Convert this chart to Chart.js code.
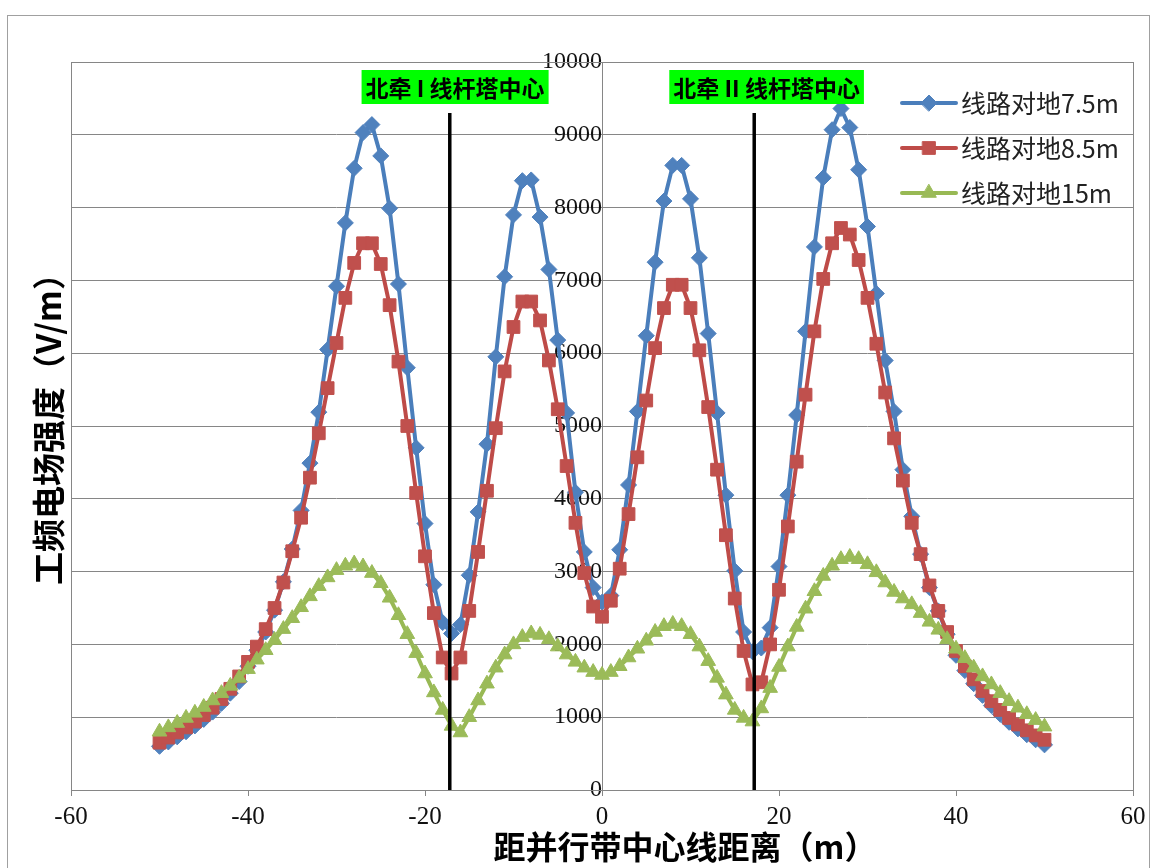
<!DOCTYPE html>
<html>
<head>
<meta charset="utf-8">
<script src="https://cdn.jsdelivr.net/npm/chart.js@4.4.1/dist/chart.umd.min.js"></script>
<style>
  html, body { margin: 0; padding: 0; background: #fff; }
  #wrap { width: 1155px; height: 868px; }
</style>
</head>
<body>
<div id="wrap"><canvas id="efield" width="1155" height="868"></canvas></div>
<script>
// distance from centre line of the parallel corridor (m)
const distance = [
  -50, -49, -48, -47, -46, -45, -44, -43, -42, -41,
  -40, -39, -38, -37, -36, -35, -34, -33, -32, -31,
  -30, -29, -28, -27, -26, -25, -24, -23, -22, -21,
  -20, -19, -18, -17, -16, -15, -14, -13, -12, -11,
  -10, -9, -8, -7, -6, -5, -4, -3, -2, -1,
  0, 1, 2, 3, 4, 5, 6, 7, 8, 9,
  10, 11, 12, 13, 14, 15, 16, 17, 18, 19,
  20, 21, 22, 23, 24, 25, 26, 27, 28, 29,
  30, 31, 32, 33, 34, 35, 36, 37, 38, 39,
  40, 41, 42, 43, 44, 45, 46, 47, 48, 49, 50
];

// field strength (V/m), line height above ground 7.5 m
const field75 = [
  600, 660, 730, 800, 880, 970, 1070, 1190, 1330, 1490,
  1700, 1920, 2170, 2470, 2860, 3310, 3840, 4490, 5190, 6050,
  6920, 7790, 8540, 9030, 9140, 8710, 7990, 6950, 5800, 4700,
  3660, 2820, 2300, 2150, 2270, 2950, 3820, 4750, 5950, 7050,
  7900, 8370, 8380, 7870, 7150, 6180, 5180, 4090, 3270, 2780,
  2580, 2670, 3300, 4190, 5200, 6240, 7250, 8090, 8580, 8580,
  8120, 7310, 6270, 5180, 4050, 3010, 2170, 1900, 1950, 2230,
  3070, 4050, 5150, 6300, 7460, 8410, 9070, 9360, 9100, 8520,
  7740, 6820, 5900, 5200, 4400, 3760, 3240, 2780, 2460, 2140,
  1850, 1640, 1460, 1300, 1160, 1040, 930, 840, 760, 690, 620
];

// 8.5 m
const field85 = [
  650, 720, 790, 860, 940, 1030, 1130, 1250, 1390, 1560,
  1760, 1970, 2210, 2500, 2850, 3280, 3740, 4290, 4900, 5520,
  6140, 6760, 7240, 7510, 7510, 7225, 6660, 5885, 5000, 4080,
  3210, 2430, 1820, 1600, 1820, 2460, 3270, 4110, 4970, 5750,
  6360, 6710, 6710, 6450, 5900, 5230, 4450, 3670, 2980, 2520,
  2380, 2600, 3040, 3790, 4570, 5350, 6070, 6620, 6940, 6940,
  6620, 6040, 5260, 4400, 3500, 2630, 1910, 1450, 1480, 2000,
  2750, 3620, 4510, 5430, 6300, 7020, 7510, 7720, 7630, 7280,
  6760, 6130, 5460, 4830, 4250, 3670, 3240, 2810, 2460, 2170,
  1910, 1700, 1520, 1360, 1220, 1100, 990, 900, 820, 750, 690
];

// 15 m
const field15 = [
  800, 860, 920, 990, 1060, 1140, 1230, 1330, 1430, 1540,
  1660, 1790, 1920, 2060, 2210, 2360, 2510, 2660, 2800, 2920,
  3020, 3080, 3110, 3070, 2980, 2840, 2640, 2400, 2140, 1880,
  1600, 1340, 1100, 880, 790, 1000, 1230, 1460, 1680, 1860,
  2000, 2100, 2150, 2130, 2070, 1970, 1860, 1760, 1680, 1620,
  1580, 1620, 1700, 1820, 1940, 2050, 2170, 2250, 2280, 2250,
  2140, 1970, 1770, 1540, 1310, 1100, 990, 940, 1120, 1400,
  1690, 1970, 2240, 2490, 2730, 2940, 3080, 3170, 3200, 3170,
  3100, 2990, 2850, 2720, 2630, 2550, 2430, 2310, 2200, 2070,
  1940, 1810, 1680, 1560, 1450, 1330, 1220, 1130, 1040, 960, 870
];

const seriesNames = ["线路对地7.5m", "线路对地8.5m", "线路对地15m"];

// tower centre lines
const towerX = [-17.2, 17.2];
const towerTop = 9300;
const towerNames = ["北牵 I 线杆塔中心", "北牵 II 线杆塔中心"];
const towerLabelX = [-16.6, 18.6];

const xTicks = { min: -60, max: 60, step: 20 };
const yTicks = { min: 0, max: 10000, step: 1000 };

const xTitle = "距并行带中心线距离（m）";
const yTitle = "工频电场强度（V/m）";

const styles = [
  { line: "#4A7EBB", fill: "#4F81BD", point: "rectRot", radius: 8 },
  { line: "#BE4B48", fill: "#C0504D", point: "rect", radius: 9 },
  { line: "#98B954", fill: "#9BBB59", point: "triangle", radius: 8.5 }
];

const gridGrey = "#868686";

function toPoints(values) {
  return distance.map((d, i) => ({ x: d, y: values[i] }));
}

const seriesData = [field75, field85, field15];

const datasets = seriesData.map((vals, i) => ({
  label: seriesNames[i],
  data: toPoints(vals),
  borderColor: styles[i].line,
  backgroundColor: styles[i].fill,
  pointBackgroundColor: styles[i].fill,
  pointBorderColor: styles[i].fill,
  pointStyle: styles[i].point,
  pointRadius: styles[i].radius,
  pointBorderWidth: 1,
  borderWidth: 4,
  tension: 0,
  order: 3 - i
}));

towerX.forEach((tx, i) => {
  datasets.push({
    label: "tower" + i,
    data: [{ x: tx, y: 0 }, { x: tx, y: towerTop }],
    borderColor: "#000",
    borderWidth: 3.5,
    pointRadius: 0,
    order: 0
  });
});

// frame, titles, tower labels and legend
const decorations = {
  id: "decorations",
  beforeDatasetsDraw(chart) {
    const { ctx, chartArea: a } = chart;
    ctx.save();
    ctx.strokeStyle = gridGrey;
    ctx.lineWidth = 1;
    ctx.strokeRect(Math.round(a.left) + 0.5, Math.round(a.top) + 0.5,
      Math.round(a.right - a.left), Math.round(a.bottom - a.top));
    // outer chart border
    ctx.strokeStyle = "#a0a0a0";
    ctx.strokeRect(7.5, 15.5, 1142, 860);
    ctx.restore();
  },
  afterDatasetsDraw(chart) {
    const { ctx } = chart;
    const xs = chart.scales.x;
    ctx.save();

    // tower labels
    ctx.font = "bold 23px 'Noto Sans CJK SC'";
    ctx.textBaseline = "middle";
    ctx.textAlign = "center";
    towerNames.forEach((name, i) => {
      const cx = xs.getPixelForValue(towerLabelX[i]);
      const w = ctx.measureText(name).width + 8;
      ctx.fillStyle = "#00FF00";
      ctx.fillRect(cx - w / 2, 70, w, 34);
      ctx.fillStyle = "#000";
      ctx.fillText(name, cx, 88);
    });

    // legend
    const legendY = [103, 148, 193];
    styles.forEach((s, i) => {
      const y = legendY[i];
      ctx.strokeStyle = s.line;
      ctx.lineWidth = 4;
      ctx.lineCap = "round";
      ctx.beginPath();
      ctx.moveTo(902, y);
      ctx.lineTo(956, y);
      ctx.stroke();
      ctx.fillStyle = s.fill;
      ctx.strokeStyle = s.fill;
      ctx.lineWidth = 1;
      Chart.helpers.drawPoint(ctx, { pointStyle: s.point, radius: s.radius, rotation: 0, borderWidth: 1 }, 929, y);
      ctx.fillStyle = "#222";
      ctx.font = "25px 'Noto Sans CJK SC'";
      ctx.textAlign = "left";
      ctx.fillText(seriesNames[i], 961, y);
    });

    // axis titles
    ctx.fillStyle = "#000";
    ctx.font = "bold 32px 'Noto Sans CJK SC'";
    ctx.textAlign = "center";
    ctx.textBaseline = "middle";
    ctx.fillText(xTitle, 685, 847);
    ctx.translate(48, 421);
    ctx.rotate(-Math.PI / 2);
    ctx.font = "bold 33px 'Noto Sans CJK SC'";
    ctx.fillText(yTitle, 0, 0);
    ctx.restore();
  }
};

const ctx = document.getElementById("efield").getContext("2d");

const chart = new Chart(ctx, {
  type: "line",
  data: { datasets },
  options: {
    responsive: false,
    animation: false,
    devicePixelRatio: 1,
    layout: { padding: { left: 71, right: 22, top: 62, bottom: 0 } },
    plugins: {
      legend: { display: false },
      tooltip: { enabled: false }
    },
    scales: {
      x: {
        type: "linear",
        min: xTicks.min,
        max: xTicks.max,
        ticks: {
          stepSize: xTicks.step,
          color: "#111",
          padding: 6,
          font: { family: "'Liberation Serif'", size: 25 },
          callback: v => String(v)
        },
        grid: { drawOnChartArea: false, tickLength: 6, color: gridGrey },
        border: { color: gridGrey },
        afterFit(scale) { scale.height = 78; }
      },
      y: {
        type: "linear",
        position: { x: 0 },
        min: yTicks.min,
        max: yTicks.max,
        ticks: {
          stepSize: yTicks.step,
          color: "#111",
          padding: 16,
          font: { family: "'Liberation Serif'", size: 24 },
          callback: v => String(v)
        },
        grid: { color: gridGrey, tickLength: 7 },
        border: { color: gridGrey }
      }
    }
  },
  plugins: [decorations]
});
</script>
</body>
</html>
